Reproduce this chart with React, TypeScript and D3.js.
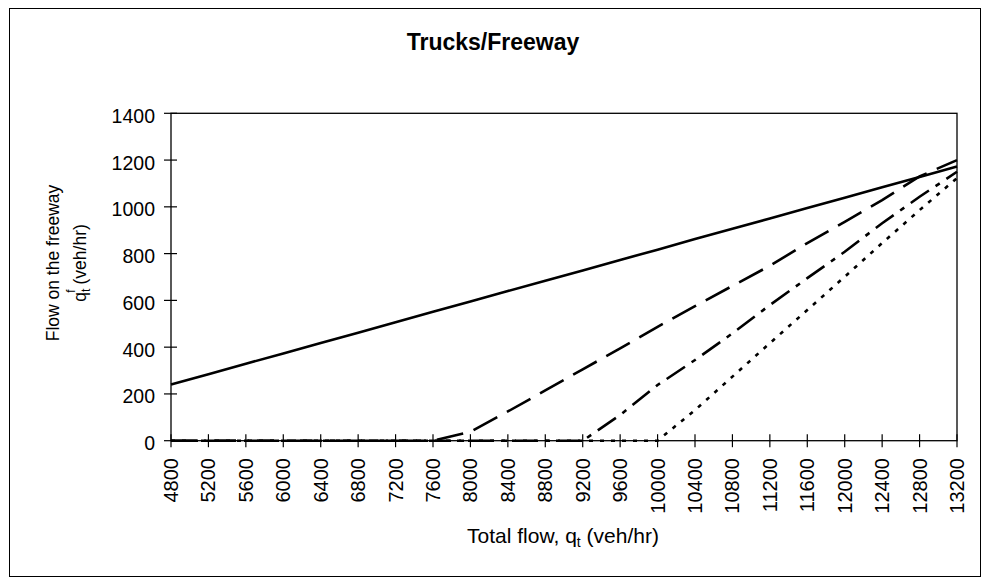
import * as d3 from 'd3';

// total flow categories (veh/hr)
const flows = [
  '4800', '5200', '5600', '6000', '6400', '6800', '7200', '7600', '8000', '8400', '8800',
  '9200', '9600', '10000', '10400', '10800', '11200', '11600', '12000', '12400', '12800', '13200',
];
// flow on the freeway, one series per curve
const solidVals = [
  240, 284, 329, 373, 418, 462, 506, 551, 595, 640, 684,
  728, 773, 817, 862, 906, 950, 995, 1039, 1084, 1128, 1172,
];
const dashVals = [
  0, 0, 0, 0, 0, 0, 0, 0, 38, 125, 215,
  305, 395, 487, 575, 662, 748, 845, 936, 1029, 1130, 1200,
];
const dashDotVals = [
  0, 0, 0, 0, 0, 0, 0, 0, 0, 0, 0,
  0, 110, 238, 345, 459, 580, 695, 808, 930, 1043, 1150,
];
const dotVals = [
  0, 0, 0, 0, 0, 0, 0, 0, 0, 0, 0,
  0, 0, 0, 131, 274, 417, 559, 701, 845, 986, 1123,
];
const yTicks = [0, 200, 400, 600, 800, 1000, 1200, 1400];

const W = 989;
const H = 582;
const plot = { left: 171, right: 957, top: 113.3, bottom: 440.7 };
const font = '"Liberation Sans", Arial, sans-serif';

const series = [
  { vals: solidVals, dash: null },
  { vals: dashVals, dash: '27,11' },
  { vals: dashDotVals, dash: '22,8,5,8' },
  { vals: dotVals, dash: '4,7' },
];

export default function App() {
  const x = d3.scalePoint<string>().domain(flows).range([plot.left, plot.right]).padding(0);
  const y = d3.scaleLinear().domain([0, 1400]).range([plot.bottom, plot.top]);
  const line = d3
    .line<number>()
    .x((_, i) => x(flows[i]) as number)
    .y((d) => y(d));

  return (
    <svg
      width={W}
      height={H}
      style={{ position: 'absolute', left: 0, top: 0, background: '#fff' }}
      fontFamily={font}
    >
      <rect x={9.5} y={8.5} width={971} height={568} fill="#fff" stroke="#000" strokeWidth={1} />
      <text x={493} y={50} textAnchor="middle" fontSize={23} fontWeight="bold">
        Trucks/Freeway
      </text>

      {/* plot frame */}
      <rect
        x={plot.left}
        y={plot.top}
        width={plot.right - plot.left}
        height={plot.bottom - plot.top}
        fill="none"
        stroke="#000"
        strokeWidth={1.3}
      />

      {/* y axis */}
      {yTicks.map((t) => (
        <g key={t}>
          <line x1={plot.left - 7} x2={plot.left + 6} y1={y(t)} y2={y(t)} stroke="#000" strokeWidth={1.2} />
          <text x={155} y={y(t) + 9.5} textAnchor="end" fontSize={19.5}>
            {t}
          </text>
        </g>
      ))}

      {/* x axis */}
      {flows.map((f) => (
        <g key={f}>
          <line x1={x(f)} x2={x(f)} y1={plot.bottom - 6.5} y2={plot.bottom + 6.5} stroke="#000" strokeWidth={1.2} />
          <text
            transform={`translate(${(x(f) as number) + 7},458) rotate(-90)`}
            textAnchor="end"
            fontSize={20}
          >
            {f}
          </text>
        </g>
      ))}

      {/* series */}
      {series.map((s, i) => (
        <path
          key={i}
          d={line(s.vals) || ''}
          fill="none"
          stroke="#000"
          strokeWidth={2.6}
          strokeDasharray={s.dash || undefined}
        />
      ))}

      {/* axis titles */}
      <text transform="translate(59,263) rotate(-90)" textAnchor="middle" fontSize={17.5}>
        Flow on the freeway
      </text>
      <text transform="translate(86,263) rotate(-90)" textAnchor="middle" fontSize={17.5}>
        q<tspan fontSize={12} dy={4}>t</tspan>
        <tspan fontSize={12} dx={-4} dy={-15}>f</tspan>
        <tspan dy={11}> (veh/hr)</tspan>
      </text>
      <text x={563} y={543} textAnchor="middle" fontSize={21}>
        Total flow, q<tspan fontSize={14} dy={4}>t</tspan>
        <tspan dy={-4}> (veh/hr)</tspan>
      </text>
    </svg>
  );
}
